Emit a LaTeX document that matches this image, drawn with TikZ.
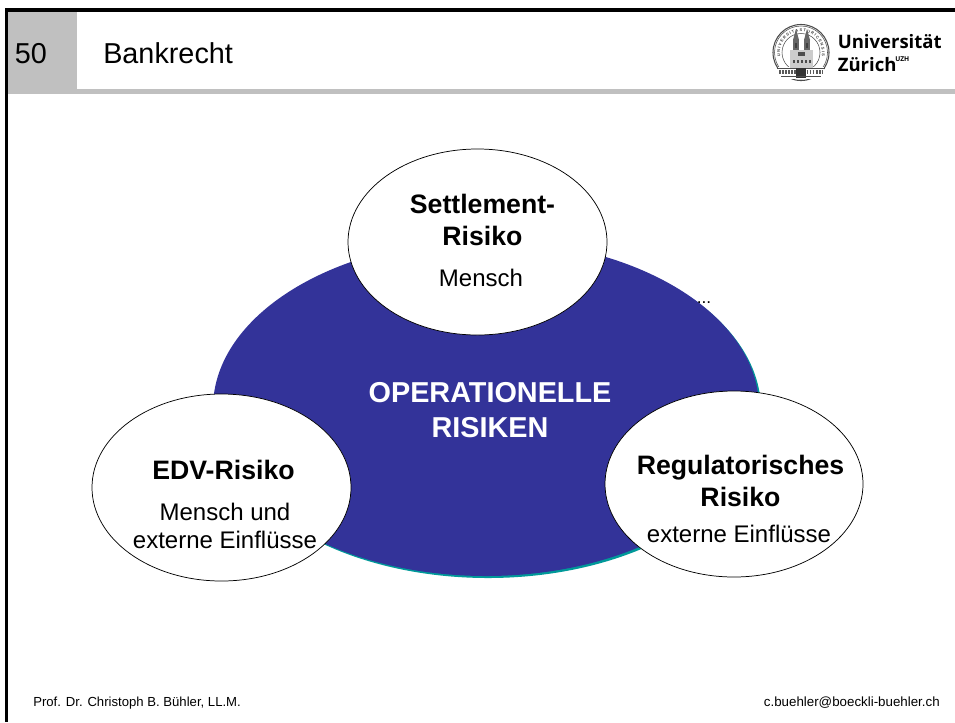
\documentclass[tikz,border=0pt]{standalone}
\usepackage{fontspec}
\setmainfont{Liberation Sans}
\newfontfamily\logofont{Open Sans}
\usetikzlibrary{shapes.geometric,decorations.text}
\definecolor{barGray}{RGB}{192,192,192}
\definecolor{navy}{RGB}{51,51,153}
\definecolor{tealx}{RGB}{0,153,153}
\tikzset{
  bubble/.style={ellipse,draw=black,fill=white,line width=0.55pt,inner sep=0pt,outer sep=0pt},
  lbl/.style={align=center,inner sep=0pt,text=black},
  seal/.style={draw=black!70,line width=0.5pt},
}
\newcommand{\ptsz}[1]{\fontsize{#1}{#1}\selectfont}
\begin{document}
\begin{tikzpicture}[x=0.75pt,y=-0.75pt]
\useasboundingbox (0,0) rectangle (955,722);
\fill[white] (0,0) rectangle (955,722);
% header
\fill[barGray] (8,11) rectangle (77,94);
\fill[barGray] (8,89) rectangle (955,94);
\fill[black] (5,8) rectangle (955,11.5);
\fill[black] (5,8) rectangle (8,722);
\node[lbl,anchor=base west,font=\ptsz{21.6}] (num) at (14.5,63) {50};
\node[lbl,anchor=base west,font=\ptsz{21.6}] (title) at (103,63) {Bankrecht};
% logo seal
\coordinate (sc) at (801,52.5);
\draw[seal,line width=0.8pt] (sc) circle (28);
\draw[seal,line width=0.4pt] (sc) circle (26.5);
\draw[seal,line width=0.4pt] (sc) circle (19);
\path[decorate,decoration={text along path,text align=center,
  text={|\ptsz{3}\bfseries\color{black!75}|U N I V E R S I T A S   T U R I C E N S I S}}]
  (801,52.5) ++(150:21) arc[start angle=150,end angle=390,radius=21];
\fill[white] (778,67) rectangle (824,79);
\fill[black!60] (793,40) rectangle (799,68);
\fill[black!60] (804,40) rectangle (810,68);
\fill[black!60] (793,40) -- (796,29) -- (799,40) -- cycle;
\fill[black!60] (804,40) -- (807,29) -- (810,40) -- cycle;
\fill[black!20] (790,50) rectangle (813,68);
\fill[black!70] (798,52) rectangle (805,56);
\foreach \wx in {793,797,801,805,809} \fill[black!70] (\wx,60) rectangle ++(1.6,3);
\fill[black!75] (795,43) rectangle (797,48);
\fill[black!75] (806,43) rectangle (808,48);
\draw[seal] (777,68) -- (825,68);
\draw[black!65,line width=3pt,dash pattern=on 1.3pt off 1pt] (779,72) -- (823,72);
\fill[black!80] (796,68) rectangle (806,78);
\draw[seal] (781,76) -- (821,76);
% logo text
\node[lbl,anchor=base west,font=\logofont\bfseries\ptsz{13.9}] (uni) at (837.5,48) {Universität};
\node[lbl,anchor=base west,font=\logofont\bfseries\ptsz{13.9}] (zh) at (837.5,71) {Zürich};
\node[lbl,anchor=base west,font=\logofont\bfseries\ptsz{5}] (uzh) at (895,61) {UZH};
% big ellipse
\fill[tealx] (488,410) ellipse (273 and 168);
\fill[navy] (486,408) ellipse (273 and 168);
% small dots
\node[lbl,anchor=base,font=\ptsz{13}] (dots) at (704,303) {...};
% center text
\node[lbl,font=\bfseries\ptsz{21.6},text=white] (center) at (490,410) {OPERATIONELLE\\[4.6pt]RISIKEN};
% bubbles
\node[bubble,minimum width=194.25pt,minimum height=139.5pt] (top) at (477.5,242) {};
\node[bubble,minimum width=194.25pt,minimum height=140.25pt] (left) at (221.5,487.5) {};
\node[bubble,minimum width=193.5pt,minimum height=139.5pt] (right) at (734,484) {};
\node[lbl,font=\bfseries\ptsz{20}] (t1) at (482.5,220) {Settlement-\\[4pt]Risiko};
\node[lbl,font=\ptsz{18}] (t2) at (481,278) {Mensch};
\node[lbl,font=\bfseries\ptsz{20}] (l1) at (223.5,470) {EDV-Risiko};
\node[lbl,font=\ptsz{18}] (l2) at (225,525.5) {Mensch und\\[3pt]externe Einflüsse};
\node[lbl,font=\bfseries\ptsz{20}] (r1) at (740.5,481) {Regulatorisches\\[4pt]Risiko};
\node[lbl,font=\ptsz{18}] (r2) at (739,534) {externe Einflüsse};
% footer
\node[lbl,anchor=base west,font=\ptsz{9.85}] (fl) at (33,706) {Prof. Dr. Christoph B. Bühler, LL.M.};
\node[lbl,anchor=base east,font=\ptsz{10}] (fr) at (940,706) {c.buehler@boeckli-buehler.ch};
\end{tikzpicture}
\end{document}
